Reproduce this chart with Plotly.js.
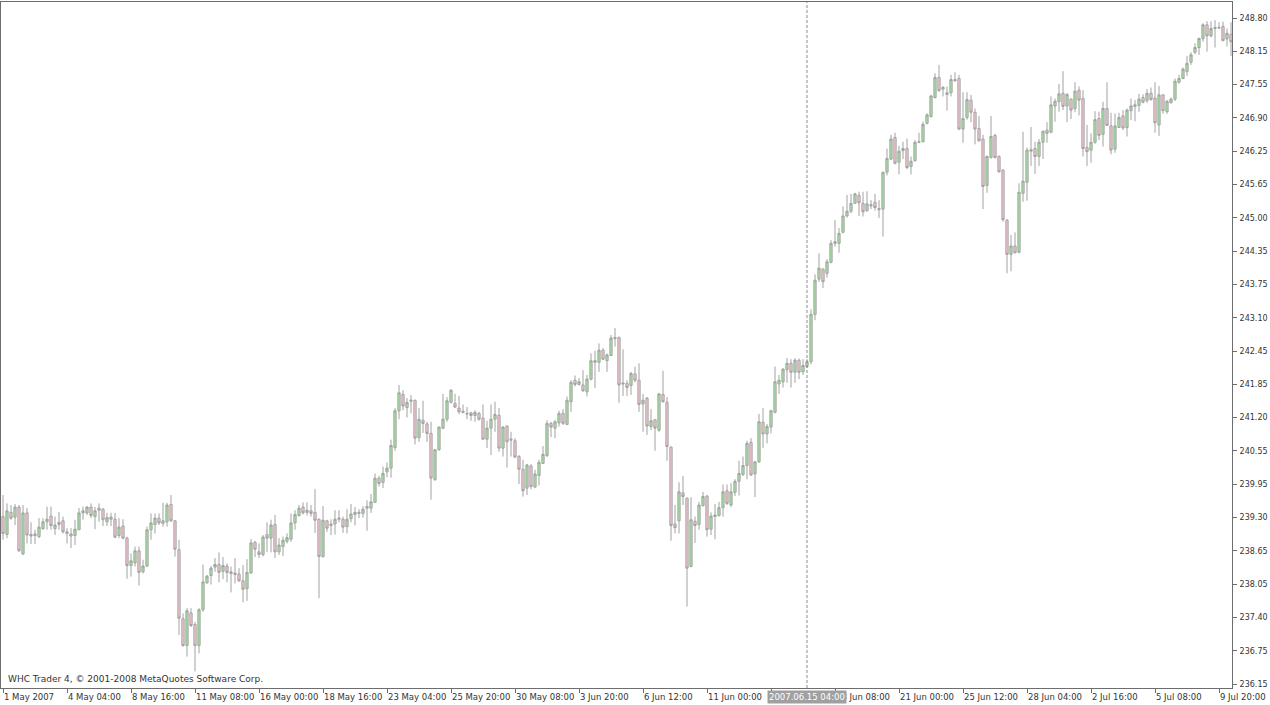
<!DOCTYPE html>
<html>
<head>
<meta charset="utf-8">
<script src="https://cdn.plot.ly/plotly-3.0.1.min.js"></script>
<style>
html,body{margin:0;padding:0;background:#fff;}
#chart{width:1270px;height:705px;}
</style>
</head>
<body>
<div id="chart"></div>
<script>
// H4 bars, 1 May 2007 - 9 Jul 2007
const openP = [
239.33,238.99,239.41,239.32,239.51,238.62,239.40,238.99,238.97,238.95,239.10,239.23,239.34,239.10,239.18,239.25,239.04,239.00,238.97,239.08,
239.40,239.40,239.51,239.33,239.45,239.47,239.23,239.28,239.28,238.97,239.15,238.92,238.40,238.45,238.68,238.28,238.39,239.08,239.18,239.30,
239.20,239.23,239.56,239.25,238.70,237.39,236.88,237.50,237.28,236.88,237.56,238.07,238.21,238.37,238.42,238.29,238.39,238.28,238.26,238.24,
238.11,237.96,238.26,238.84,238.66,238.61,238.99,238.92,239.18,238.66,238.76,238.86,238.90,239.21,239.35,239.51,239.45,239.44,239.41,239.28,
238.57,239.25,239.19,239.19,239.28,239.28,239.14,239.29,239.37,239.39,239.39,239.49,239.49,239.60,240.06,239.98,240.18,240.25,240.64,241.34,
241.65,241.40,241.52,241.54,240.83,241.16,241.09,240.91,240.03,240.60,241.01,241.18,241.50,241.48,241.39,241.33,241.29,241.30,241.25,241.29,
241.20,240.80,241.01,241.18,241.25,240.63,241.05,240.78,240.77,240.47,240.23,239.87,240.29,239.89,240.11,240.34,240.49,241.10,241.01,241.11,
241.29,241.08,241.51,241.92,241.84,241.83,241.70,241.94,242.26,242.26,242.49,242.29,242.39,242.71,242.73,241.87,241.86,241.82,242.04,241.92,
241.47,241.58,241.04,241.17,240.97,241.65,241.50,240.65,239.19,239.25,239.78,239.68,238.38,239.24,239.18,239.54,239.72,239.09,239.33,239.35,
239.50,239.82,239.55,239.79,240.00,240.13,240.30,240.74,240.14,240.37,241.12,240.90,241.03,241.31,241.85,241.89,242.12,242.24,242.07,242.30,
242.08,242.18,242.27,243.17,243.84,244.03,243.95,244.16,244.52,244.52,244.73,245.04,245.13,245.28,245.43,245.28,245.14,245.23,245.30,245.18,
245.17,245.87,246.12,246.53,246.06,246.28,246.32,245.98,246.09,246.44,246.45,246.80,246.93,247.29,247.67,247.45,247.38,247.38,247.63,247.65,
246.69,246.91,247.24,247.01,246.70,246.50,245.62,246.15,246.57,246.17,245.91,244.96,244.31,244.47,244.35,245.47,245.68,246.27,246.32,246.17,
246.44,246.67,246.63,247.13,247.21,247.37,247.13,247.26,247.08,247.43,247.27,246.34,246.29,246.44,246.89,246.59,247.08,246.75,246.31,246.72,
246.94,246.72,247.04,247.12,247.14,247.29,247.23,247.37,247.28,246.77,247.34,247.02,247.19,247.26,247.58,247.65,247.78,247.96,248.15,248.24,
248.41,248.67,248.46,248.60,248.62,248.64,248.40,248.49
];
const highP = [
239.74,239.58,239.55,239.57,239.55,239.55,239.49,239.22,239.08,239.30,239.30,239.52,239.52,239.33,239.42,239.33,239.11,239.11,239.27,239.49,
239.52,239.53,239.58,239.51,239.58,239.49,239.40,239.40,239.40,239.30,239.28,238.95,238.63,238.76,238.76,238.51,239.14,239.39,239.39,239.39,
239.59,239.59,239.74,239.26,238.89,237.49,237.59,237.59,237.33,237.59,238.42,238.22,238.39,238.54,238.65,238.56,238.44,238.38,238.54,238.35,
238.41,238.52,238.90,238.87,238.82,238.98,239.22,239.27,239.36,238.92,238.95,239.01,239.39,239.45,239.55,239.60,239.60,239.55,239.85,239.29,
239.53,239.27,239.28,239.45,239.45,239.33,239.47,239.57,239.51,239.47,239.53,239.64,239.76,240.15,240.10,240.28,240.36,240.79,241.39,241.83,
241.73,241.58,241.64,241.55,241.39,241.53,241.13,241.13,240.61,241.04,241.66,241.60,241.75,241.66,241.62,241.46,241.41,241.32,241.35,241.32,
241.46,241.15,241.46,241.51,241.39,241.05,241.06,240.94,240.82,240.50,240.41,240.33,240.33,240.22,240.41,240.67,241.16,241.13,241.16,241.34,
241.37,241.61,241.92,242.01,241.96,242.11,242.02,242.43,242.48,242.62,242.53,242.43,242.78,242.91,242.75,242.51,241.92,242.08,242.18,242.24,
241.66,241.60,241.37,241.18,241.68,242.10,241.60,240.66,239.55,239.98,240.10,239.69,239.70,239.33,239.61,239.80,239.74,239.41,239.57,239.61,
239.94,239.94,239.97,240.04,240.39,240.47,240.77,240.82,240.38,241.28,241.39,241.09,241.36,242.18,242.02,242.15,242.34,242.32,242.34,242.33,
242.32,242.32,243.27,243.93,244.33,244.05,244.22,244.58,244.96,244.81,245.22,245.44,245.46,245.48,245.50,245.50,245.51,245.34,245.46,245.34,
245.88,246.32,246.58,246.62,246.37,246.45,246.51,246.17,246.48,246.62,246.83,246.99,247.34,247.75,247.91,247.51,247.50,247.72,247.77,247.72,
247.39,247.39,247.34,247.08,246.94,246.58,246.19,246.94,246.60,246.19,245.93,244.98,244.68,244.73,245.66,246.64,246.34,246.73,246.45,246.50,
246.66,246.82,247.31,247.27,247.55,247.79,247.37,247.27,247.58,247.50,247.43,246.77,246.61,247.03,247.02,247.21,247.58,247.00,246.99,247.00,
247.05,247.08,247.27,247.24,247.36,247.35,247.45,247.48,247.58,247.51,247.35,247.24,247.29,247.65,247.72,247.86,248.08,248.15,248.32,248.43,
248.70,248.74,248.74,248.76,248.72,248.73,248.60,248.72
];
const lowP = [
238.89,238.92,239.27,239.17,238.66,238.60,238.82,238.81,238.81,238.92,239.08,239.08,239.08,238.98,239.08,239.01,238.82,238.73,238.79,239.08,
239.27,239.36,239.30,239.09,239.23,239.15,239.15,239.15,238.92,238.92,238.90,238.15,238.19,238.38,238.02,238.25,238.37,238.89,239.01,239.17,
239.14,239.14,239.23,238.57,237.08,236.86,236.67,237.23,236.39,236.73,237.52,238.06,238.04,238.28,238.08,238.14,238.08,237.89,238.06,238.09,
237.70,237.73,238.24,238.56,238.54,238.57,238.66,238.65,238.54,238.60,238.58,238.82,238.85,239.08,239.33,239.37,239.35,239.33,239.02,237.78,
238.55,239.04,238.98,238.99,239.22,239.02,239.01,239.22,239.16,239.30,239.31,239.06,239.40,239.59,239.90,239.87,240.08,240.07,240.58,241.18,
241.35,241.21,241.29,240.70,240.75,240.92,240.75,239.65,240.01,240.58,240.99,241.13,241.48,241.39,241.28,241.29,241.18,241.15,241.13,241.15,
240.79,240.63,240.50,240.94,240.56,240.47,240.26,240.47,240.44,239.95,239.71,239.74,239.85,239.87,239.92,240.33,240.46,240.84,240.82,241.04,
241.07,241.07,241.32,241.80,241.82,241.70,241.61,241.92,241.77,242.08,242.30,242.08,242.38,242.56,241.49,241.62,241.62,241.64,241.88,241.32,
240.94,240.88,240.97,240.58,240.94,241.50,240.39,238.87,239.01,239.01,239.55,237.62,238.37,238.83,239.08,239.52,238.95,238.98,238.90,239.33,
239.33,239.55,239.51,239.72,239.73,240.10,240.04,240.10,239.70,240.35,240.63,240.72,240.91,241.29,241.66,241.78,241.87,241.78,241.87,241.94,
242.02,242.15,242.22,243.06,243.79,243.67,243.87,244.14,244.46,244.34,244.71,245.01,245.09,245.27,245.04,245.03,245.12,245.17,245.14,245.00,
244.65,245.81,246.10,246.02,245.83,246.12,245.93,245.83,246.07,246.42,246.44,246.78,246.91,247.27,247.40,247.31,247.04,247.31,247.59,246.67,
246.43,246.87,246.82,246.40,246.45,245.17,245.48,246.13,246.13,245.86,244.93,243.95,243.99,244.33,244.33,245.31,245.33,245.99,245.84,245.99,
246.12,246.43,246.61,246.83,247.02,247.05,246.82,246.88,247.01,246.95,246.17,245.99,246.05,246.41,246.48,246.36,246.75,246.21,246.24,246.71,
246.67,246.55,246.86,246.84,247.02,247.18,247.19,247.23,246.62,246.56,246.98,246.98,247.18,247.22,247.55,247.64,247.70,247.91,248.11,248.10,
248.35,248.16,248.43,248.24,248.60,248.36,248.26,248.08
];
const closeP = [
239.01,239.44,239.30,239.51,238.68,239.40,238.98,238.96,239.00,239.13,239.23,239.28,239.16,239.17,239.22,239.04,239.01,238.96,239.09,239.40,
239.44,239.51,239.35,239.44,239.49,239.27,239.31,239.32,238.94,239.13,238.92,238.40,238.49,238.68,238.27,238.39,239.08,239.21,239.30,239.21,
239.25,239.55,239.25,238.71,237.40,236.88,237.54,237.26,236.88,237.56,238.09,238.20,238.35,238.42,238.27,238.40,238.27,238.25,238.23,238.11,
237.95,238.27,238.83,238.71,238.61,238.94,238.92,239.17,238.66,238.79,238.88,238.93,239.21,239.37,239.49,239.40,239.41,239.39,239.26,238.57,
239.26,239.11,239.16,239.28,239.30,239.13,239.28,239.38,239.41,239.41,239.47,239.52,239.61,240.06,239.96,240.15,240.25,240.68,241.34,241.68,
241.43,241.50,241.54,240.82,241.18,241.10,240.91,240.06,240.60,241.03,241.18,241.53,241.73,241.41,241.32,241.31,241.28,241.25,241.31,241.18,
240.80,241.01,241.18,241.27,240.63,241.03,240.75,240.80,240.46,240.23,239.82,240.31,239.90,240.14,240.36,240.51,241.10,241.03,241.13,241.29,
241.10,241.54,241.88,241.84,241.89,241.72,241.94,242.29,242.29,242.49,242.32,242.40,242.72,242.73,241.83,241.85,241.78,242.05,241.92,241.46,
241.54,241.05,241.15,241.01,241.66,241.51,240.66,239.16,239.12,239.80,239.71,238.35,239.27,239.16,239.55,239.71,239.08,239.34,239.36,239.50,
239.80,239.58,239.80,240.00,240.15,240.30,240.72,240.12,240.37,241.13,240.90,241.04,241.34,241.89,241.92,242.13,242.24,242.07,242.30,242.07,
242.20,242.27,243.17,243.82,244.05,243.79,244.17,244.52,244.55,244.71,245.04,245.13,245.28,245.46,245.29,245.12,245.27,245.25,245.20,245.16,
245.87,246.13,246.50,246.04,246.27,246.32,245.96,246.08,246.44,246.45,246.78,246.96,247.32,247.67,247.42,247.48,247.35,247.63,247.61,246.69,
246.89,247.25,247.01,246.69,246.47,245.60,246.17,246.55,246.15,245.88,244.97,244.31,244.47,244.34,245.49,245.70,246.29,246.30,246.17,246.44,
246.65,246.61,247.15,247.22,247.36,247.12,247.35,247.05,247.41,247.24,246.32,246.26,246.44,246.87,246.57,247.08,246.76,246.29,246.75,246.91,
246.71,247.05,247.13,247.15,247.26,247.20,247.37,247.25,246.81,247.34,247.04,247.22,247.26,247.60,247.65,247.83,247.94,248.10,248.24,248.41,
248.67,248.46,248.60,248.62,248.61,248.37,248.51,248.35
];

// time-axis labels (one every 16 bars; the one under the crosshair box is hidden) and price-axis labels
const xLabelBars = [0,16,32,48,64,80,96,112,128,144,160,176,192,208,224,240,256,272,288,304];
const xLabels = ['1 May 2007','4 May 04:00','8 May 16:00','11 May 08:00','16 May 00:00','18 May 16:00',
  '23 May 04:00','25 May 20:00','30 May 08:00','3 Jun 20:00','6 Jun 12:00','11 Jun 00:00',
  '','18 Jun 08:00','21 Jun 00:00','25 Jun 12:00','28 Jun 04:00','2 Jul 16:00',
  '5 Jul 08:00','9 Jul 20:00'];
const yTickVals = [248.80,248.1675,247.535,246.9025,246.27,245.6375,245.005,244.3725,243.74,243.1075,
  242.475,241.8425,241.21,240.5775,239.945,239.3125,238.68,238.0475,237.415,236.7825,236.15];
const yTickText = ['248.80','248.15','247.55','246.90','246.25','245.65','245.00','244.35','243.75','243.10',
  '242.45','241.85','241.20','240.55','239.95','239.30','238.65','238.05','237.40','236.75','236.15'];
const crosshairBar = 201;
const crosshairLabel = '2007.06.15 04:00';
const watermark = 'WHC Trader 4, \u00a9 2001-2008 MetaQuotes Software Corp.';

const barIndex = closeP.map((_, i) => i);
const FONT = 'DejaVu Sans, Verdana, sans-serif';

const trace = {
  type: 'candlestick',
  x: barIndex,
  open: openP, high: highP, low: lowP, close: closeP,
  increasing: {fillcolor: '#9ee69a', line: {color: '#a2a2a2', width: 1}},
  decreasing: {fillcolor: '#f8c4cd', line: {color: '#a2a2a2', width: 1}},
  whiskerwidth: 0,
  hoverinfo: 'skip',
  showlegend: false
};

const layout = {
  width: 1270, height: 705,
  margin: {l: 1, r: 38, t: 2, b: 17, pad: 0},
  paper_bgcolor: '#ffffff', plot_bgcolor: '#ffffff',
  showlegend: false, hovermode: false, dragmode: false,
  boxgap: 0.2,
  font: {family: FONT, size: 9, color: '#333333'},
  xaxis: {
    type: 'linear', range: [-0.5, 307.25], fixedrange: true, automargin: false,
    rangeslider: {visible: false},
    tickmode: 'array', tickvals: xLabelBars, ticktext: xLabels, tickangle: 0,
    ticks: 'outside', ticklen: 4, tickwidth: 1, tickcolor: '#6d6d6d',
    ticklabelposition: 'outside right', ticklabeloverflow: 'allow', ticklabelstandoff: 1,
    tickfont: {family: FONT, size: 8.5, color: '#333333'},
    showgrid: false, zeroline: false,
    showline: true, mirror: true, linecolor: '#6d6d6d', linewidth: 1
  },
  yaxis: {
    side: 'right', range: [236.074, 249.104], fixedrange: true, automargin: false,
    tickmode: 'array', tickvals: yTickVals, ticktext: yTickText,
    ticks: 'outside', ticklen: 4, tickwidth: 1, tickcolor: '#6d6d6d',
    ticklabeloverflow: 'allow', ticklabelstandoff: 1,
    tickfont: {family: FONT, size: 8, color: '#333333'},
    showgrid: false, zeroline: false,
    showline: true, mirror: true, linecolor: '#6d6d6d', linewidth: 1
  },
  shapes: [{
    type: 'line', xref: 'x', yref: 'paper', x0: crosshairBar, x1: crosshairBar, y0: 0, y1: 1,
    line: {color: '#8a8a8a', width: 1, dash: '3px,2px'}
  }],
  annotations: [{
    xref: 'x', yref: 'paper', x: crosshairBar, y: 0, yanchor: 'top', xanchor: 'center',
    yshift: -2, showarrow: false, text: crosshairLabel,
    bgcolor: '#a0a0a0', borderpad: 1,
    font: {family: FONT, size: 8.5, color: '#ffffff'}
  }, {
    xref: 'paper', yref: 'paper', x: 0.004, y: 0.013, xanchor: 'left', yanchor: 'middle',
    showarrow: false, text: watermark,
    font: {family: FONT, size: 9, color: '#333333'}
  }]
};

Plotly.newPlot('chart', [trace], layout, {staticPlot: true, displayModeBar: false});
</script>
</body>
</html>
